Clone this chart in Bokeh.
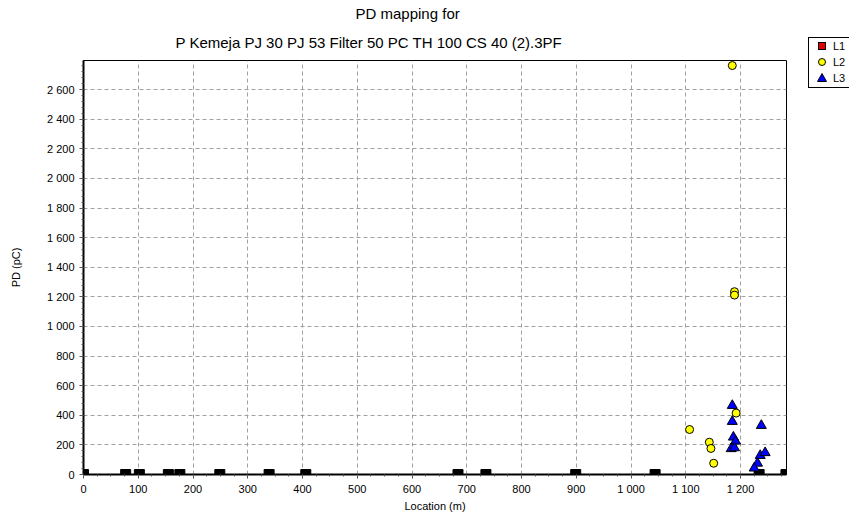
from bokeh.plotting import figure
from bokeh.layouts import row
from bokeh.models import (Range1d, SingleIntervalTicker, CustomJSTickFormatter, Title, Div)
from bokeh.embed import file_html
from bokeh.resources import INLINE

# ---- data ----
l1_x = [0, 77, 102, 155, 176, 249, 339, 406, 684, 735, 899, 1044, 1234, 1283]
l1_y = [0] * len(l1_x)
l2_x = [1185, 1189, 1189, 1107, 1143, 1146, 1151, 1192]
l2_y = [2763, 1235, 1212, 304, 218, 176, 76, 415]
l3_x = [1185, 1185, 1238, 1187, 1191, 1183, 1189, 1236, 1245, 1231, 1225]
l3_y = [466, 358, 331, 252, 225, 174, 180, 128, 147, 76, 43]

title_lines = ["PD mapping for", "P Kemeja PJ 30 PJ 53 Filter 50 PC TH 100 CS 40 (2).3PF"]
x_label = "Location (m)"
y_label = "PD (pC)"
series_names = ["L1", "L2", "L3"]
series_colors = ["#e00000", "#ffff00", "#0000ff"]

FONT = "Liberation Sans"

p = figure(width=808, height=516, output_backend="svg", toolbar_location=None,
           x_range=Range1d(0, 1284), y_range=Range1d(0, 2797),
           min_border_left=83, min_border_right=22, min_border_top=60, min_border_bottom=42)
p.title = None
p.background_fill_color = "white"
p.border_fill_color = "white"
p.outline_line_color = "black"
p.outline_line_width = 1

fmt = CustomJSTickFormatter(code="return tick.toString().replace(/\\B(?=(\\d{3})+(?!\\d))/g, ' ');")

p.xaxis.ticker = SingleIntervalTicker(interval=100, num_minor_ticks=4)
p.yaxis.ticker = SingleIntervalTicker(interval=200, num_minor_ticks=5)
p.xgrid.ticker = p.xaxis.ticker
p.ygrid.ticker = p.yaxis.ticker
for ax in (p.xaxis, p.yaxis):
    ax.formatter = fmt
    ax.axis_line_color = "black"
    ax.axis_line_width = 2
    ax.major_tick_line_color = "#555555"
    ax.minor_tick_line_color = "#555555"
    ax.major_tick_out = 4
    ax.major_tick_in = 0
    ax.minor_tick_out = 2
    ax.minor_tick_in = 0
    ax.major_label_text_font = FONT
    ax.major_label_text_font_size = "11px"
    ax.major_label_text_color = "black"
    ax.axis_label_text_font = FONT
    ax.axis_label_text_font_size = "11px"
    ax.axis_label_text_font_style = "normal"
    ax.axis_label_text_color = "black"
p.xaxis.axis_label = x_label
p.yaxis.axis_label = y_label
p.xaxis.major_label_standoff = 4
p.xaxis.axis_label_standoff = 2
p.yaxis.major_label_standoff = 5
p.yaxis.axis_label_standoff = 22

for g in (p.xgrid, p.ygrid):
    g.grid_line_color = "#a0a0a0"
    g.grid_line_dash = "4 3"
    g.grid_line_width = 1

# L1 points sit on the zero line (rendered as dark blocks)
p.scatter(l1_x, l1_y, marker="square", size=10, fill_color="black", line_color="black")
p.scatter(l2_x, l2_y, marker="circle", size=8, fill_color=series_colors[1], line_color="black")
p.scatter(l3_x, l3_y, marker="triangle", size=10, fill_color=series_colors[2], line_color="black")

# two-line title: added nearest-to-frame first
t2 = Title(text=title_lines[1], align="left", offset=92, standoff=20,
           text_font=FONT, text_font_size="15px", text_font_style="normal", text_color="black")
t1 = Title(text=title_lines[0], align="left", offset=272, standoff=0, text_line_height=0.4,
           text_font=FONT, text_font_size="15px", text_font_style="normal", text_color="black")
p.add_layout(t2, "above")
p.add_layout(t1, "above")

# ---- legend box at the top right, cut by the window edge as in the reference ----
def marker_html(i, color):
    if i == 0:
        return (f'<span style="position:absolute;left:10px;top:-4px;width:8px;height:8px;'
                f'box-sizing:border-box;background:{color};border:1px solid black;"></span>')
    if i == 1:
        return (f'<span style="position:absolute;left:10px;top:-4px;width:8px;height:8px;'
                f'box-sizing:border-box;border-radius:50%;background:{color};border:1px solid black;"></span>')
    return ('<svg style="position:absolute;left:9px;top:-5px;" width="10" height="9">'
            f'<polygon points="5,0.5 9.5,8.5 0.5,8.5" fill="{color}" stroke="black" stroke-width="1"/></svg>')

rows_html = ""
for i, (name, color) in enumerate(zip(series_names, series_colors)):
    yc = 46 + 16 * i
    rows_html += (f'<div style="position:absolute;left:0;top:{yc}px;width:60px;height:0;">'
                  + marker_html(i, color)
                  + f'<span style="position:absolute;left:25px;top:-7px;line-height:14px;">{name}</span></div>')

html = ('<div style="position:relative;width:41px;height:516px;overflow:hidden;background:white;'
        f"font-family:'{FONT}',Arial,sans-serif;font-size:11px;color:black;\">"
        '<div style="position:absolute;left:0;top:37px;width:60px;height:51px;'
        'box-sizing:border-box;border:1px solid black;background:white;"></div>'
        + rows_html + '</div>')

legend_div = Div(text=html, width=41, height=516, margin=0)

layout = row(p, legend_div, spacing=0)
open("out.html", "w").write(file_html(layout, INLINE))
